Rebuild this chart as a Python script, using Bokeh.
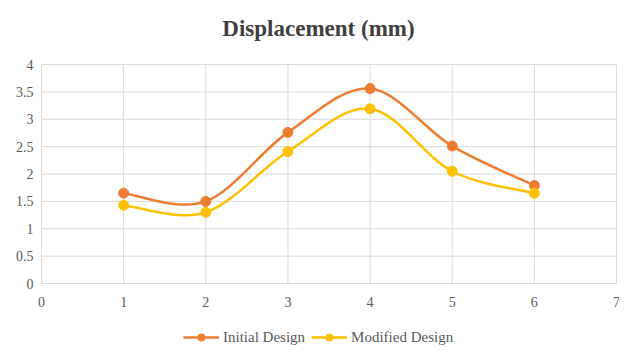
from bokeh.plotting import figure
from bokeh.models import Legend, LegendItem, ColumnDataSource, Range1d
from bokeh.core.properties import value
from bokeh.embed import file_html
from bokeh.resources import INLINE

x_vals = [1, 2, 3, 4, 5, 6]
initial = [1.65, 1.50, 2.76, 3.56, 2.51, 1.79]
modified = [1.43, 1.30, 2.41, 3.19, 2.05, 1.65]
x_ticks = [0, 1, 2, 3, 4, 5, 6, 7]
x_tick_labels = ["0", "1", "2", "3", "4", "5", "6", "7"]
y_ticks = [0, 0.5, 1, 1.5, 2, 2.5, 3, 3.5, 4]
y_tick_labels = ["0", "0.5", "1", "1.5", "2", "2.5", "3", "3.5", "4"]
series_names = ["Initial Design", "Modified Design"]
colors = ["#ED7D31", "#FFC000"]
title = "Displacement (mm)"

FONT = "Liberation Serif"
GRID = "#D9D9D9"
LABEL = "#595959"

# layout in pixels: the frame covers the whole figure
W, H = 619, 346
X0_PX, X1_PX = 41, 616      # pixel of first / last x tick
Y0_PX, Y1_PX = 283, 64      # pixel (from top) of first / last y tick
xmin, xmax = min(x_ticks), max(x_ticks)
ymin, ymax = min(y_ticks), max(y_ticks)
sx = (X1_PX - X0_PX) / (xmax - xmin)
sy = (Y0_PX - Y1_PX) / (ymax - ymin)
x_start = xmin - X0_PX / sx
x_end = xmin + (W - X0_PX) / sx
y_end = ymin + Y0_PX / sy
y_start = ymin - (H - Y0_PX) / sy


def bezier_segments(xs, ys):
    n = len(xs)
    out = dict(x0=[], y0=[], x1=[], y1=[], cx0=[], cy0=[], cx1=[], cy1=[])
    for i in range(n - 1):
        p0 = i - 1 if i > 0 else i
        p3 = i + 2 if i + 2 < n else i + 1
        out["x0"].append(xs[i]); out["y0"].append(ys[i])
        out["x1"].append(xs[i + 1]); out["y1"].append(ys[i + 1])
        out["cx0"].append(xs[i] + (xs[i + 1] - xs[p0]) / 6)
        out["cy0"].append(ys[i] + (ys[i + 1] - ys[p0]) / 6)
        out["cx1"].append(xs[i + 1] - (xs[p3] - xs[i]) / 6)
        out["cy1"].append(ys[i + 1] - (ys[p3] - ys[i]) / 6)
    return out


p = figure(width=W, height=H, output_backend="svg", toolbar_location=None,
           x_range=Range1d(x_start, x_end), y_range=Range1d(y_start, y_end),
           x_axis_type=None, y_axis_type=None,
           min_border_left=0, min_border_right=0, min_border_top=0, min_border_bottom=0)
p.outline_line_color = None

# gridlines
p.segment(x0=x_ticks, y0=[ymin] * len(x_ticks), x1=x_ticks, y1=[ymax] * len(x_ticks),
          line_color=GRID, line_width=1)
p.segment(x0=[xmin] * len(y_ticks), y0=y_ticks, x1=[xmax] * len(y_ticks), y1=y_ticks,
          line_color=GRID, line_width=1)

# tick labels
p.text(x=x_ticks, y=[ymin] * len(x_ticks), text=x_tick_labels, text_font=value(FONT),
       text_font_size="14px", text_color=LABEL, text_align="center",
       text_baseline="top", y_offset=13)
p.text(x=[xmin] * len(y_ticks), y=y_ticks, text=y_tick_labels, text_font=value(FONT),
       text_font_size="14px", text_color=LABEL, text_align="right",
       text_baseline="middle", x_offset=-8)

# title
p.text(x=[xmin + (318 - X0_PX) / sx], y=[ymin + (Y0_PX - 28) / sy], text=[title],
       text_font=value(FONT), text_font_size="23px", text_font_style="bold",
       text_color="#404040", text_align="center", text_baseline="middle")

items = []
for name, ys, c in zip(series_names, [initial, modified], colors):
    segs = bezier_segments(x_vals, ys)
    bz = p.bezier(source=ColumnDataSource(segs), x0="x0", y0="y0", x1="x1", y1="y1",
                  cx0="cx0", cy0="cy0", cx1="cx1", cy1="cy1", line_color=c, line_width=2.5)
    sc = p.scatter(x=x_vals, y=ys, size=10, fill_color=c, line_color=c)
    items.append(LegendItem(label=name, renderers=[bz, sc]))

legend = Legend(items=items, orientation="horizontal", location=(183, 0),
                border_line_color=None, background_fill_alpha=0,
                label_text_font=FONT, label_text_font_size="15px",
                label_text_color=LABEL, glyph_width=36, glyph_height=18, label_height=18,
                label_standoff=4, spacing=6, padding=0, margin=0)
p.add_layout(legend, "center")

open("out.html", "w").write(file_html(p, INLINE))
